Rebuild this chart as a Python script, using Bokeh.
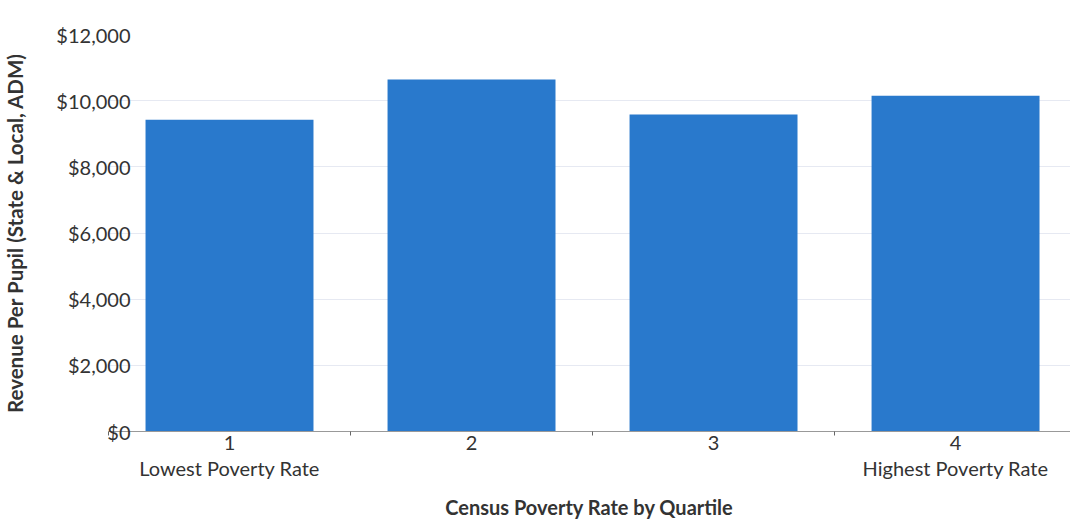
from bokeh.plotting import figure
from bokeh.models import (Range1d, LinearAxis, FixedTicker, NumeralTickFormatter)
from bokeh.embed import file_html
from bokeh.resources import INLINE

quartiles = [1, 2, 3, 4]
quartile_labels = ["1", "2", "3", "4"]
revenue = [9420, 10640, 9580, 10150]
extreme_ticks = [1, 4]
extreme_labels = ["Lowest Poverty Rate", "Highest Poverty Rate"]
y_ticks = [0, 2000, 4000, 6000, 8000, 10000, 12000]

FONT = "Lato"
TXT = "#333333"

p = figure(width=1070, height=521, output_backend="svg", toolbar_location=None,
           x_range=Range1d(0.5, 4.475), y_range=Range1d(0, 12000),
           min_border_left=108, min_border_right=0, min_border_top=34,
           min_border_bottom=0)
p.outline_line_color = None
p.background_fill_color = "white"

p.vbar(x=quartiles, top=revenue, width=0.694, color="#2979cc", line_color=None)

# y axis
ya = p.yaxis[0]
ya.ticker = FixedTicker(ticks=y_ticks)
ya.formatter = NumeralTickFormatter(format="$0,0")
ya.axis_line_color = None
ya.major_tick_line_color = None
ya.minor_tick_line_color = None
ya.major_tick_out = 0
ya.major_tick_in = 0
ya.minor_tick_out = 0
ya.major_label_text_font = FONT
ya.major_label_text_font_size = "20px"
ya.major_label_text_color = TXT
ya.major_label_standoff = -22
ya.axis_label = "Revenue Per Pupil (State & Local, ADM)"
ya.axis_label_text_font = FONT
ya.axis_label_text_font_style = "bold"
ya.axis_label_text_font_size = "20.5px"
ya.axis_label_text_color = TXT
ya.axis_label_standoff = 26

p.ygrid.ticker = FixedTicker(ticks=y_ticks)
p.ygrid.grid_line_color = "#e6e9f2"
p.ygrid.grid_line_width = 1
p.xgrid.grid_line_color = None

# x axis (numbers)
xa = p.xaxis[0]
xa.ticker = FixedTicker(ticks=quartiles, minor_ticks=[0.5, 1.5, 2.5, 3.5, 4.5])
xa.major_label_overrides = {q: l for q, l in zip(quartiles, quartile_labels)}
xa.axis_line_color = "#999999"
xa.axis_line_width = 1
xa.major_tick_line_color = None
xa.major_tick_out = 0
xa.major_tick_in = 0
xa.minor_tick_line_color = "#666666"
xa.minor_tick_in = 0
xa.minor_tick_out = 4
xa.major_label_text_font = FONT
xa.major_label_text_font_size = "20px"
xa.major_label_text_color = TXT
xa.major_label_standoff = 0

# second x axis with extreme labels
xb = LinearAxis(ticker=FixedTicker(ticks=extreme_ticks))
xb.major_label_overrides = {t: l for t, l in zip(extreme_ticks, extreme_labels)}
xb.axis_line_color = None
xb.major_tick_line_color = None
xb.minor_tick_line_color = None
xb.major_tick_out = 0
xb.major_tick_in = 0
xb.minor_tick_out = 0
xb.major_label_text_font = FONT
xb.major_label_text_font_size = "20px"
xb.major_label_text_color = TXT
xb.major_label_standoff = 3
xb.axis_label = "Census Poverty Rate by Quartile"
xb.axis_label_text_font = FONT
xb.axis_label_text_font_style = "bold"
xb.axis_label_text_font_size = "20px"
xb.axis_label_text_color = TXT
xb.axis_label_standoff = 12
p.add_layout(xb, "below")

open("out.html", "w").write(file_html(p, INLINE))
